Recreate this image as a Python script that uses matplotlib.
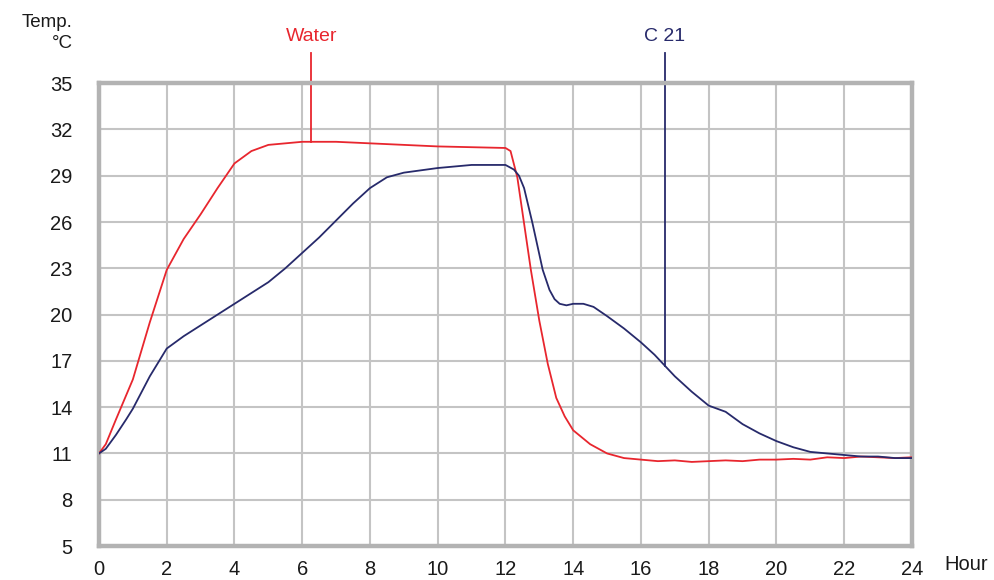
import matplotlib
matplotlib.use("Agg")
import matplotlib.pyplot as plt

plt.rcParams['font.family'] = ['Liberation Sans', 'DejaVu Sans']

# readings, hours vs temperature
water_t = [0, 0.2, 0.5, 1.0, 1.5, 2.0, 2.5, 3.0, 3.5, 4.0, 4.5, 5.0, 5.5, 6.0, 7.0, 8.0,
           9.0, 10.0, 11.0, 12.0, 12.15, 12.35, 12.55, 12.75, 13.0, 13.25, 13.5, 13.75,
           14.0, 14.5, 15.0, 15.5, 16.0, 16.5, 17.0, 17.5, 18.0, 18.5, 19.0, 19.5, 20.0,
           20.5, 21.0, 21.5, 22.0, 22.5, 23.0, 23.5, 24.0]
water_v = [11.0, 11.6, 13.2, 15.8, 19.5, 22.9, 24.9, 26.5, 28.2, 29.8, 30.6, 31.0, 31.1,
           31.2, 31.2, 31.1, 31.0, 30.9, 30.85, 30.8, 30.6, 28.9, 25.9, 22.9, 19.6, 16.8,
           14.6, 13.4, 12.5, 11.6, 11.0, 10.7, 10.6, 10.5, 10.55, 10.45, 10.5, 10.55,
           10.5, 10.6, 10.6, 10.65, 10.6, 10.75, 10.7, 10.8, 10.75, 10.7, 10.75]

c21_t = [0, 0.2, 0.5, 0.8, 1.0, 1.5, 2.0, 2.5, 3.0, 3.5, 4.0, 4.5, 5.0, 5.5, 6.0, 6.5,
         7.0, 7.5, 8.0, 8.5, 9.0, 10.0, 11.0, 12.0, 12.25, 12.4, 12.55, 12.8, 13.0, 13.1,
         13.3, 13.45, 13.6, 13.8, 14.0, 14.3, 14.6, 15.0, 15.5, 16.0, 16.4, 16.7, 17.0,
         17.5, 18.0, 18.5, 19.0, 19.5, 20.0, 20.5, 21.0, 21.5, 22.0, 22.5, 23.0, 23.5, 24.0]
c21_v = [11.0, 11.3, 12.2, 13.2, 13.9, 16.0, 17.8, 18.6, 19.3, 20.0, 20.7, 21.4, 22.1,
         23.0, 24.0, 25.0, 26.1, 27.2, 28.2, 28.9, 29.2, 29.5, 29.7, 29.7, 29.4, 29.0,
         28.2, 25.9, 23.9, 22.9, 21.6, 21.0, 20.7, 20.6, 20.7, 20.7, 20.5, 19.9, 19.1,
         18.2, 17.4, 16.7, 16.0, 15.0, 14.1, 13.7, 12.9, 12.3, 11.8, 11.4, 11.1, 11.0,
         10.9, 10.8, 10.8, 10.7, 10.7]

x_ticks = list(range(0, 25, 2))
y_ticks = [5, 8, 11, 14, 17, 20, 23, 26, 29, 32, 35]

red = '#e8262e'
navy = '#272a6b'
frame = '#b3b3b3'

fig = plt.figure(figsize=(9.95, 5.8), dpi=100)
ax = fig.add_axes([0.0995, 0.0586, 0.817, 0.798])

ax.plot(water_t, water_v, color=red, lw=1.3, zorder=3)
ax.plot(c21_t, c21_v, color=navy, lw=1.3, zorder=3)

ax.set_xlim(0, 24)
ax.set_ylim(5, 35)
ax.set_xticks(x_ticks)
ax.set_yticks(y_ticks)
ax.tick_params(length=0, labelsize=14.5, colors='#1a1a1a')
ax.tick_params(axis='x', pad=10)
ax.tick_params(axis='y', pad=19)
ax.grid(True, color='#c4c4c4', lw=1.5)
ax.set_axisbelow(True)
for s in ax.spines.values():
    s.set_color(frame)
    s.set_linewidth(3.2)

# callout lines and series names above the frame
ax.plot([6.27, 6.27], [31.2, 36.95], color=red, lw=1.3, clip_on=False)
ax.text(6.27, 37.5, 'Water', color=red, fontsize=14, ha='center', va='bottom')
ax.plot([16.7, 16.7], [16.7, 36.95], color=navy, lw=1.3, clip_on=False)
ax.text(16.7, 37.5, 'C 21', color=navy, fontsize=14, ha='center', va='bottom')

fig.text(0.073, 0.962, 'Temp.', fontsize=13.5, ha='right', va='center', color='#1a1a1a')
fig.text(0.073, 0.925, '°C', fontsize=13.5, ha='right', va='center', color='#1a1a1a')
fig.text(0.971, 0.026, 'Hour', fontsize=14.5, ha='center', va='center', color='#1a1a1a')

fig.savefig('out.png', dpi=100, facecolor='white')
